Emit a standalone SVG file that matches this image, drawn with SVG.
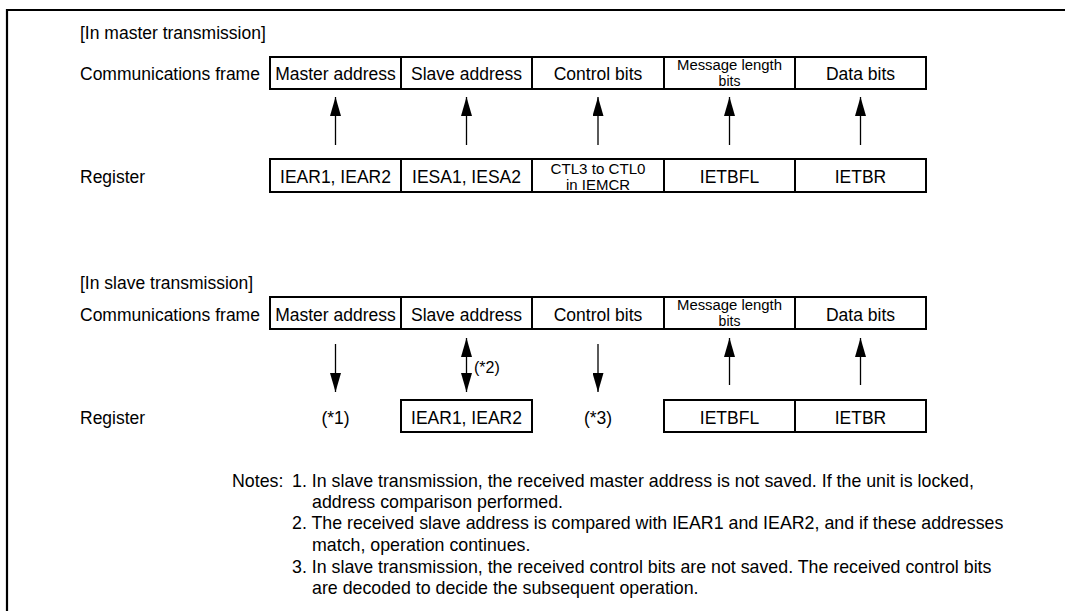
<svg xmlns="http://www.w3.org/2000/svg" width="1065" height="611" viewBox="0 0 1065 611">
<style>
text{font-family:"Liberation Sans",Arial,sans-serif;fill:#000}
.t{font-size:17.5px}
.c{font-size:17.5px;text-anchor:middle}
.s{font-size:14px;text-anchor:middle}
.n{font-size:17.8px}
.box{fill:#fff;stroke:#000;stroke-width:2}
.arr{stroke:#000;stroke-width:1.3;fill:none}
</style>
<defs>
<marker id="ah" viewBox="0 0 19 11" refX="19" refY="5.5" markerWidth="19" markerHeight="11" markerUnits="userSpaceOnUse" orient="auto-start-reverse">
<path d="M0,0 L19,5.5 L0,11 z" fill="#000"/>
</marker>
</defs>
<rect width="1065" height="611" fill="#fff"/>
<path d="M7,620 V10 H1070" fill="none" stroke="#000" stroke-width="2.2"/>

<g id="labels">
<text class="t" x="80" y="39">[In master transmission]</text>
<text class="t" x="80" y="80">Communications frame</text>
<text class="t" x="80" y="183">Register</text>
<text class="t" x="80" y="289">[In slave transmission]</text>
<text class="t" x="80" y="321">Communications frame</text>
<text class="t" x="80" y="424">Register</text>
</g>

<g id="m-frame">
<rect class="box" x="270" y="57" width="656" height="32"/>
<path d="M401,57V89M532,57V89M664,57V89M795,57V89" stroke="#000" stroke-width="2"/>
<text class="c" x="335.5" y="80">Master address</text>
<text class="c" x="466.5" y="80">Slave address</text>
<text class="c" x="598" y="80">Control bits</text>
<text class="s" x="729.5" y="69.5" textLength="105" lengthAdjust="spacingAndGlyphs">Message length</text>
<text class="s" x="729.5" y="85.5">bits</text>
<text class="c" x="860.5" y="80">Data bits</text>
</g>

<g id="m-register">
<rect class="box" x="270" y="159" width="656" height="33"/>
<path d="M401,159V192M532,159V192M664,159V192M795,159V192" stroke="#000" stroke-width="2"/>
<text class="c" x="335.5" y="183">IEAR1, IEAR2</text>
<text class="c" x="466.5" y="183">IESA1, IESA2</text>
<text class="s" x="598" y="173.5" textLength="95" lengthAdjust="spacingAndGlyphs">CTL3 to CTL0</text>
<text class="s" x="598" y="189.5" textLength="64" lengthAdjust="spacingAndGlyphs">in IEMCR</text>
<text class="c" x="729.5" y="183">IETBFL</text>
<text class="c" x="860.5" y="183">IETBR</text>
</g>

<g id="s-frame">
<rect class="box" x="270" y="297" width="656" height="32"/>
<path d="M401,297V329M532,297V329M664,297V329M795,297V329" stroke="#000" stroke-width="2"/>
<text class="c" x="335.5" y="321">Master address</text>
<text class="c" x="466.5" y="321">Slave address</text>
<text class="c" x="598" y="321">Control bits</text>
<text class="s" x="729.5" y="309.5" textLength="105" lengthAdjust="spacingAndGlyphs">Message length</text>
<text class="s" x="729.5" y="325.5">bits</text>
<text class="c" x="860.5" y="321">Data bits</text>
</g>

<g id="s-register">
<text class="c" x="335.5" y="424">(*1)</text>
<rect class="box" x="401" y="400" width="131" height="32"/>
<text class="c" x="466.5" y="424">IEAR1, IEAR2</text>
<text class="c" x="598" y="424">(*3)</text>
<rect class="box" x="664" y="400" width="262" height="32"/>
<path d="M795,400V432" stroke="#000" stroke-width="2"/>
<text class="c" x="729.5" y="424">IETBFL</text>
<text class="c" x="860.5" y="424">IETBR</text>
</g>

<g id="connectors">
<line class="arr" x1="335.5" y1="145" x2="335.5" y2="97" marker-end="url(#ah)"/>
<line class="arr" x1="466.5" y1="145" x2="466.5" y2="97" marker-end="url(#ah)"/>
<line class="arr" x1="598" y1="145" x2="598" y2="97" marker-end="url(#ah)"/>
<line class="arr" x1="729.5" y1="145" x2="729.5" y2="97" marker-end="url(#ah)"/>
<line class="arr" x1="860.5" y1="145" x2="860.5" y2="97" marker-end="url(#ah)"/>
<line class="arr" x1="335.5" y1="344" x2="335.5" y2="392" marker-end="url(#ah)"/>
<line class="arr" x1="466.5" y1="338" x2="466.5" y2="392" marker-start="url(#ah)" marker-end="url(#ah)"/>
<line class="arr" x1="598" y1="344" x2="598" y2="392" marker-end="url(#ah)"/>
<line class="arr" x1="729.5" y1="385" x2="729.5" y2="338" marker-end="url(#ah)"/>
<line class="arr" x1="860.5" y1="385" x2="860.5" y2="338" marker-end="url(#ah)"/>
<text x="474" y="373" style="font-size:16px">(*2)</text>
</g>

<g id="notes">
<text class="n" x="232" y="487">Notes:</text>
<text class="n" x="292" y="487">1. In slave transmission, the received master address is not saved. If the unit is locked,</text>
<text class="n" x="312" y="508">address comparison performed.</text>
<text class="n" x="292" y="529">2. The received slave address is compared with IEAR1 and IEAR2, and if these addresses</text>
<text class="n" x="312" y="551">match, operation continues.</text>
<text class="n" x="292" y="573">3. In slave transmission, the received control bits are not saved. The received control bits</text>
<text class="n" x="312" y="594">are decoded to decide the subsequent operation.</text>
</g>
</svg>
